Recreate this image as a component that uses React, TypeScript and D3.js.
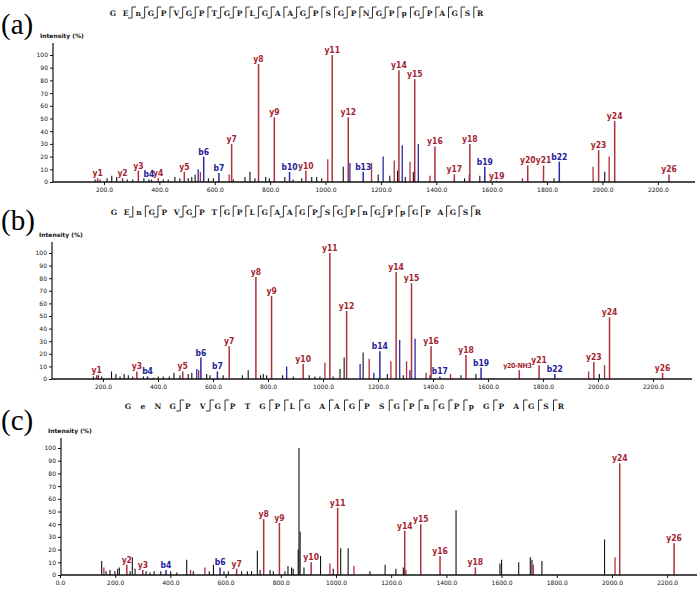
import React, { useRef, useEffect } from 'react';
import * as d3 from 'd3';

type Peak = [number, number, string?];

// ---- panel (a) ----
const seqA = ['G','E','n','G','P','V','G','P','T','G','P','L','G','A','A','G','P','S','G','P','N','G','P','p','G','P','A','G','S','R'];
const yGapsA = [2,3,4,5,6,7,8,9,10,11,12,13,14,15,16,17,18,19,20,21,22,23,24,25,26,27,28,29];
const bGapsA = [2,3,4,6,7,9,10,12,13,15,16,19,21,22,25];
const redLabA: Peak[] = [[177,3,'y1'],[267,3,'y2'],[324,9,'y3'],[396,3,'y4'],[490,8,'y5'],[661,30,'y7'],[758,93,'y8'],[815,51,'y9'],[929,9,'y10'],[1024,100,'y11'],[1082,51,'y12'],[1265,88,'y14'],[1322,81,'y15'],[1395,28,'y16'],[1465,6,'y17'],[1521,30,'y18'],[1618,1,'y19'],[1730,13,'y20'],[1787,13,'y21'],[1986,25,'y23'],[2044,48,'y24'],[2240,6,'y26']];
const redA: Peak[] = [[548,8],[652,6],[1008,18],[1166,15],[1248,17],[1305,16],[1377,5],[1711,3],[1966,12],[2024,20]];
const blueLabA: Peak[] = [[362,2,'b4'],[560,20,'b6'],[615,7,'b7'],[870,8,'b10'],[1136,8,'b13'],[1575,12,'b19'],[1844,16,'b22']];
const blueA: Peak[] = [[540,10],[1088,15],[1208,20],[1277,29],[1335,30]];
const blackA: Peak[] = [[168,2],[186,2],[211,3],[228,5],[246,4],[284,2],[304,2],[344,3],[372,2],[414,2],[432,2],[456,4],[474,3],[504,3],[517,4],[529,6],[577,3],[595,3],[667,2],[709,4],[727,8],[745,3],[784,4],[797,3],[853,4],[883,2],[914,3],[950,4],[968,4],[986,3],[1064,12],[1190,6],[1232,5],[1260,9],[1288,4],[1317,8],[1502,3],[1519,6],[1557,5],[1825,3],[2008,8]];

// ---- panel (b) ----
const seqB = ['G','E','n','G','P','V','G','P','T','G','P','L','G','A','A','G','P','S','G','P','n','G','P','p','G','P','A','G','S','R'];
const yGapsB = [3,4,6,7,9,10,11,12,13,14,15,16,17,18,19,20,21,22,23,24,25,27,28,29];
const bGapsB = [2,4,6,7,14,17,19,22];
const redLabB: Peak[] = [[177,3,'y1'],[323,6,'y3'],[490,6,'y5'],[659,26,'y7'],[756,81,'y8'],[813,66,'y9'],[928,12,'y10'],[1025,100,'y11'],[1086,54,'y12'],[1266,85,'y14'],[1322,76,'y15'],[1393,26,'y16'],[1520,19,'y18'],[1714,7,'y20-NH3'],[1786,11,'y21'],[1985,13.5,'y23'],[2042,49,'y24'],[2235,5,'y26']];
const redB: Peak[] = [[548,7],[1007,13],[1168,16],[1247,14],[1304,14],[1375,5],[1464,4],[1966,6],[2024,11]];
const blueLabB: Peak[] = [[362,2,'b4'],[556,17,'b6'],[616,6,'b7'],[1207,22,'b14'],[1425,2,'b17'],[1575,9,'b19'],[1843,4,'b22']];
const blueB: Peak[] = [[541,8],[868,10],[1135,12],[1185,5],[1279,31],[1316,7],[1335,32]];
const blackB: Peak[] = [[165,2],[183,3],[195,2],[231,6],[247,4],[262,2],[277,4],[292,3],[308,2],[347,2],[383,1],[401,2],[419,2],[441,2],[458,5],[480,3],[510,4],[523,5],[577,4],[589,3],[637,3],[707,3],[728,7],[773,3],[783,4],[795,3],[853,3],[892,2],[950,3],[971,2],[989,2],[1037,2],[1062,8],[1077,17],[1146,21],[1234,4],[1292,3],[1389,3],[1502,3],[1556,4],[2005,4]];

// ---- panel (c) ----
const seqC = ['G','e','N','G','P','V','G','P','T','G','P','L','G','A','A','G','P','S','G','P','n','G','P','p','G','P','A','G','S','R'];
const yGapsC = [4,6,7,10,11,12,14,15,16,18,19,20,21,22,23,25,27,28,29];
const bGapsC = [4,6];
const redLabC: Peak[] = [[242,8,'y2'],[300,4,'y3'],[640,5,'y7'],[738,44,'y8'],[795,41,'y9'],[910,10,'y10'],[1006,53,'y11'],[1249,35,'y14'],[1307,40,'y15'],[1377,15,'y16'],[1505,6,'y18'],[2028,88,'y24'],[2225,25,'y26']];
const redC: Peak[] = [[159,6],[473,4],[525,6],[978,9],[1065,7],[1253,4],[1715,8],[2011,14]];
const blueLabC: Peak[] = [[384,4,'b4'],[580,6,'b6']];
const blueC: Peak[] = [];
const blackC: Peak[] = [[151,11],[167,3],[181,4],[199,3],[209,5],[215,6],[254,3],[262,14],[272,5],[312,3],[326,2],[341,3],[365,3],[401,3],[423,2],[459,12],[483,3],[541,3],[556,8],[594,3],[610,3],[658,3],[679,3],[694,3],[715,19],[725,4],[761,4],[773,3],[815,3],[826,7],[839,6],[845,5],[863,20],[866,100],[870,34],[884,6],[944,15],[990,5],[1017,21],[1044,21],[1123,3],[1178,8],[1217,5],[1244,6],[1435,51],[1594,9],[1600,12],[1662,10],[1704,14],[1710,12],[1746,11],[1973,28]];

const yTicks = [0,10,20,30,40,50,60,70,80,90,100];
const xTicksAB = [200,400,600,800,1000,1200,1400,1600,1800,2000,2200];
const xTicksC = [0,200,400,600,800,1000,1200,1400,1600,1800,2000,2200];

const RED = '#b0303c';
const RED_TXT = '#a52530';
const BLUE = '#2a2aa8';
const BLUE_TXT = '#22229a';

const App = () => {
  const ref = useRef<SVGSVGElement>(null);

  useEffect(() => {
    const svg = d3.select(ref.current);
    svg.selectAll('*').remove();

    const panels = [
      { tag: '(a)', tagY: 34, seq: seqA, yG: yGapsA, bG: bGapsA, seqX: 113, seqStep: 12.66, seqY: 13,
        xMax: 2334, x0: 48.6, x1: 695, axisX: 53, base: 182, top: 55, axisTop: 43, ticks: xTicksAB,
        redLab: redLabA, red: redA, blueLab: blueLabA, blue: blueA, black: blackA },
      { tag: '(b)', tagY: 230, seq: seqB, yG: yGapsB, bG: bGapsB, seqX: 114, seqStep: 12.55, seqY: 212,
        xMax: 2342, x0: 48, x1: 692, axisX: 52, base: 379, top: 253, axisTop: 242, ticks: xTicksAB,
        redLab: redLabB, red: redB, blueLab: blueLabB, blue: blueB, black: blackB },
      { tag: '(c)', tagY: 430, seq: seqC, yG: yGapsC, bG: bGapsC, seqX: 128, seqStep: 14.93, seqY: 406,
        xMax: 2308, x0: 60, x1: 697, axisX: 61, base: 575, top: 448, axisTop: 438, ticks: xTicksC,
        redLab: redLabC, red: redC, blueLab: blueLabC, blue: blueC, black: blackC },
    ];

    panels.forEach(p => {
      const g = svg.append('g');
      const x = d3.scaleLinear().domain([0, p.xMax]).range([p.x0, p.x1]);
      const y = d3.scaleLinear().domain([0, 100]).range([p.base, p.top]);

      // panel tag
      g.append('text').attr('x', 1).attr('y', p.tagY)
        .attr('font-family', 'Liberation Serif, serif').attr('font-size', 29).attr('fill', '#000')
        .text(p.tag);

      // sequence
      const sg = g.append('g');
      p.seq.forEach((c, i) => {
        sg.append('text').attr('x', p.seqX + i * p.seqStep).attr('y', p.seqY + 3)
          .attr('text-anchor', 'middle').attr('font-family', 'DejaVu Serif, serif')
          .attr('font-weight', 'bold').attr('font-size', 7.5).attr('fill', '#222').text(c);
      });
      const gapX = (k: number) => p.seqX + (k - 0.5) * p.seqStep;
      const gaps = Array.from(new Set([...p.yG, ...p.bG]));
      gaps.forEach(k => {
        const mx = gapX(k);
        const path = d3.path();
        if (p.bG.includes(k)) { path.moveTo(mx - 4, p.seqY + 5); path.lineTo(mx, p.seqY + 5); }
        else path.moveTo(mx, p.seqY + 5);
        path.lineTo(mx, p.seqY - 6);
        if (p.yG.includes(k)) path.lineTo(mx + 4, p.seqY - 6);
        sg.append('path').attr('d', path.toString()).attr('fill', 'none')
          .attr('stroke', '#333').attr('stroke-width', 1);
      });

      // peaks
      const drawPeaks = (data: Peak[], color: string, w: number) => {
        g.append('g').selectAll('line').data(data).enter().append('line')
          .attr('x1', d => x(d[0])).attr('x2', d => x(d[0]))
          .attr('y1', y(0)).attr('y2', d => y(d[1]))
          .attr('stroke', color).attr('stroke-width', w);
      };
      drawPeaks(p.black, '#111', 1.1);
      drawPeaks(p.blue, BLUE, 1.3);
      drawPeaks(p.red, RED, 1.3);
      drawPeaks(p.blueLab, BLUE, 1.5);
      drawPeaks(p.redLab, RED, 1.5);

      const drawLabels = (data: Peak[], color: string) => {
        g.append('g').selectAll('text').data(data).enter().append('text')
          .attr('x', d => x(d[0]) - ((d[2] as string).length > 3 ? 2 : 0))
          .attr('y', d => y(d[1]) - 2)
          .attr('text-anchor', 'middle')
          .attr('font-family', 'DejaVu Sans Condensed, DejaVu Sans, sans-serif')
          .attr('font-weight', 'bold')
          .attr('font-size', d => ((d[2] as string).length > 3 ? 7 : 8.5))
          .attr('letter-spacing', d => ((d[2] as string).length > 3 ? -0.3 : 0))
          .attr('fill', color)
          .text(d => d[2] as string);
      };
      drawLabels(p.blueLab, BLUE_TXT);
      drawLabels(p.redLab, RED_TXT);

      // y axis
      const yAxis = g.append('g').attr('transform', `translate(${p.axisX},0)`)
        .call(d3.axisLeft(y).tickValues(yTicks).tickSize(3).tickPadding(2).tickFormat(d3.format('d')));
      yAxis.select('.domain').remove();
      yAxis.selectAll('line').attr('stroke', '#111');
      yAxis.selectAll('text').attr('font-size', 6).attr('font-family', 'DejaVu Sans, sans-serif').attr('fill', '#111');
      g.append('line').attr('x1', p.axisX).attr('x2', p.axisX).attr('y1', p.axisTop).attr('y2', p.base)
        .attr('stroke', '#111').attr('stroke-width', 1.2);
      g.append('text').attr('x', p.axisX - 13).attr('y', p.axisTop - 5)
        .attr('font-family', 'DejaVu Sans, sans-serif').attr('font-weight', 'bold')
        .attr('font-size', 6).attr('fill', '#111').text('Intensity (%)');

      // x axis
      const xAxis = g.append('g').attr('transform', `translate(0,${p.base})`)
        .call(d3.axisBottom(x).tickValues(p.ticks).tickSize(3).tickPadding(3).tickFormat(d3.format('.1f')));
      xAxis.select('.domain').remove();
      xAxis.selectAll('line').attr('stroke', '#111');
      xAxis.selectAll('text').attr('font-size', 6).attr('font-family', 'DejaVu Sans, sans-serif').attr('fill', '#111');
      g.append('line').attr('x1', p.axisX).attr('x2', p.x1).attr('y1', p.base).attr('y2', p.base)
        .attr('stroke', '#111').attr('stroke-width', 1.4);
    });

    return () => {
      d3.select(ref.current).selectAll('*').remove();
    };
  }, []);

  return (
    <svg ref={ref} width={700} height={595}
      style={{ position: 'absolute', left: 0, top: 0, background: '#fff', color: '#111' }}></svg>
  );
};

export default App;
